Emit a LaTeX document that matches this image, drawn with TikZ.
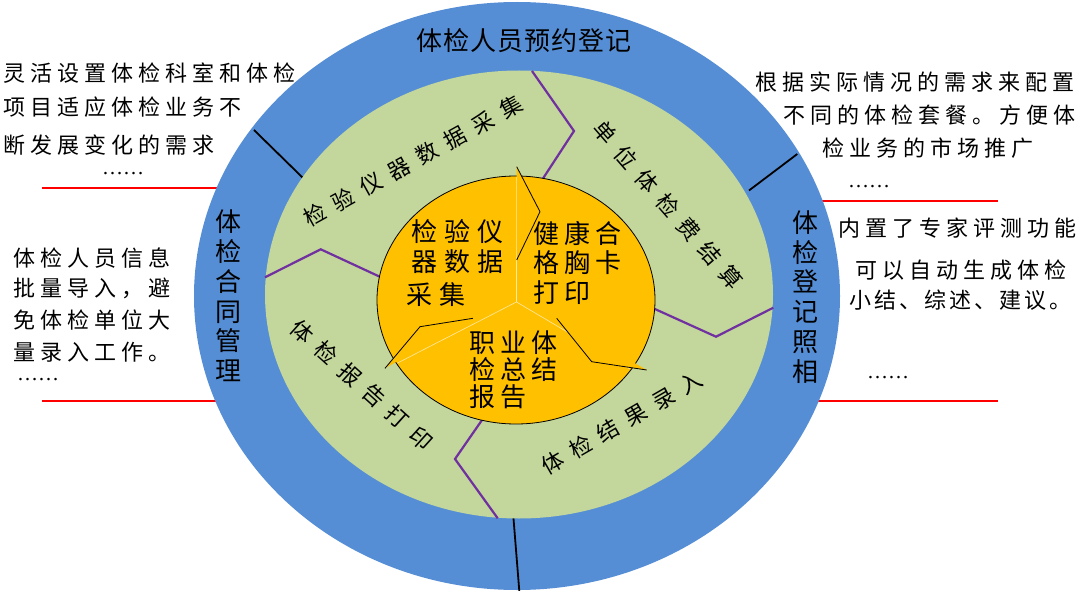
\documentclass[tikz,border=0pt]{standalone}
\usepackage{fontspec}
\newfontfamily\cjkside{Noto Sans CJK SC}[LetterSpace=23]
\newfontfamily\cjksidetight{Noto Sans CJK SC}[LetterSpace=14]
\newfontfamily\cjkring{Noto Sans CJK SC}[LetterSpace=4]
\newfontfamily\cjkgreen{Noto Sans CJK SC}[LetterSpace=45]
\newfontfamily\cjkinA{Noto Sans CJK SC}[LetterSpace=28]
\newfontfamily\cjkinB{Noto Sans CJK SC}[LetterSpace=20]
\newfontfamily\cjkplain{Noto Sans CJK SC}
\newfontfamily\dotsfont{Liberation Serif}
\definecolor{ringblue}{HTML}{558ED5}
\definecolor{ringgreen}{HTML}{C3D69B}
\definecolor{coreorange}{HTML}{FFC000}
\definecolor{zigpurple}{HTML}{7030A0}
\definecolor{sectorline}{HTML}{FFE9A8}
\tikzset{
  sidetxt/.style={anchor=west, inner sep=0pt, font=\cjkside\fontsize{22}{26}\selectfont},
  sidetight/.style={anchor=west, inner sep=0pt, font=\cjksidetight\fontsize{22}{26}\selectfont},
  dotstxt/.style={anchor=base west, inner sep=0pt, font=\dotsfont\fontsize{21}{24}\selectfont},
  ringtxt/.style={inner sep=0pt, font=\cjkring\fontsize{26}{30}\selectfont},
  vringtxt/.style={inner sep=0pt, align=center, font=\cjkplain\fontsize{26}{29.8}\selectfont},
  greentxt/.style={inner sep=0pt, font=\cjkgreen\fontsize{22}{26}\selectfont},
  coretxtA/.style={anchor=west, inner sep=0pt, font=\cjkinA\fontsize{26}{30}\selectfont},
  coretxtB/.style={anchor=west, inner sep=0pt, font=\cjkinB\fontsize{26}{30}\selectfont},
  zigzag/.style={draw=zigpurple, line width=2.2pt, line join=miter},
  tickline/.style={draw=black, line width=1.8pt},
  redrule/.style={draw=red, line width=1.8pt},
  chevfill/.style={fill=coreorange},
  chevedge/.style={draw=black, line width=0.8pt, line join=miter},
  sectorrule/.style={draw=sectorline, line width=0.6pt}
}
\begin{document}
\begin{tikzpicture}[x=1pt,y=-1pt]
\useasboundingbox (0,0) rectangle (1080,591);
\fill[white] (0,0) rectangle (1080,591);

% red rules (partly under the rings)
\coordinate (rA1) at (41.7,188.3); \coordinate (rA2) at (300,188.3);
\coordinate (rB1) at (41.7,400.7); \coordinate (rB2) at (300,400.7);
\coordinate (rC1) at (760,200.7);  \coordinate (rC2) at (998.3,200.7);
\coordinate (rD1) at (760,400.7);  \coordinate (rD2) at (998.3,400.7);
\draw[redrule] (rA1) -- (rA2);
\draw[redrule] (rB1) -- (rB2);
\draw[redrule] (rC1) -- (rC2);
\draw[redrule] (rD1) -- (rD2);

% rings
\fill[ringblue] (517,296) ellipse [x radius=323, y radius=294];
% black ticks in blue ring
\coordinate (tA1) at (254,130);   \coordinate (tA2) at (303,178);
\coordinate (tB1) at (797.3,154); \coordinate (tB2) at (749,190.5);
\coordinate (tC1) at (513.3,516); \coordinate (tC2) at (519.3,591);
\draw[tickline] (tA1) -- (tA2);
\draw[tickline] (tB1) -- (tB2);
\draw[tickline] (tC1) -- (tC2);
\fill[ringgreen] (519,294.5) ellipse [x radius=254, y radius=224];

% purple zigzags
\coordinate (zT1) at (532,71);    \coordinate (zT2) at (574,131);   \coordinate (zT3) at (542,180);
\coordinate (zR1) at (652,307.7); \coordinate (zR2) at (716,336.7); \coordinate (zR3) at (773.3,307.7);
\coordinate (zB1) at (482.7,419); \coordinate (zB2) at (455,459);   \coordinate (zB3) at (497.7,518.3);
\coordinate (zL1) at (265,277.3); \coordinate (zL2) at (320.7,249.3); \coordinate (zL3) at (381,277.3);
\draw[zigzag] (zT1) -- (zT2) -- (zT3);
\draw[zigzag] (zR1) -- (zR2) -- (zR3);
\draw[zigzag] (zB1) -- (zB2) -- (zB3);
\draw[zigzag] (zL1) -- (zL2) -- (zL3);

% orange core
\filldraw[fill=coreorange, draw=black, line width=0.8pt] (516,300) ellipse [x radius=139, y radius=124];
\coordinate (ctr) at (516.5,302);
\begin{scope}
  \clip (516,300) ellipse [x radius=138, y radius=123];
  \coordinate (sU) at (516.5,170);
  \coordinate (sL) at (380,372);
  \coordinate (sR) at (652,382);
  \draw[sectorrule] (ctr) -- (sU);
  \draw[sectorrule] (ctr) -- (sL);
  \draw[sectorrule] (ctr) -- (sR);
\end{scope}
% chevrons of the cycle arrows
\coordinate (cT1) at (516.7,166.7); \coordinate (cT2) at (540,211.7); \coordinate (cT3) at (516.7,260);
\coordinate (cL1) at (473,318.3);   \coordinate (cL2) at (420,326.7); \coordinate (cL3) at (385,368.3);
\coordinate (cR1) at (556.7,318.3); \coordinate (cR2) at (591.7,361.7); \coordinate (cR3) at (646.7,370);
\fill[chevfill] (cT1) -- (cT2) -- (cT3) -- cycle;
\fill[chevfill] (cL1) -- (cL2) -- (cL3) -- cycle;
\fill[chevfill] (cR1) -- (cR2) -- (cR3) -- cycle;
\draw[chevedge] (cT1) -- (cT2) -- (cT3);
\draw[chevedge] (cL1) -- (cL2) -- (cL3);
\draw[chevedge] (cR1) -- (cR2) -- (cR3);

% ring labels
\node[ringtxt] (title) at (524,41) {体检人员预约登记};
\node[vringtxt] (leftring) at (228,296) {体\\检\\合\\同\\管\\理};
\node[vringtxt] (rightring) at (805,297) {体\\检\\登\\记\\照\\相};

% green ring labels
\node[greentxt, rotate=29] (g1) at (413,161) {检验仪器数据采集};
\node[greentxt, rotate=-49] (g2) at (668,205) {单位体检费结算};
\node[greentxt, rotate=30] (g3) at (622,423) {体检结果录入};
\node[greentxt, rotate=-42] (g4) at (362,385) {体检报告打印};

% core labels
\node[coretxtA] (a1) at (411,232) {检验仪};
\node[coretxtA] (a2) at (411,262) {器数据};
\node[coretxtA] (a3) at (406,295) {采集};
\node[coretxtB] (b1) at (533,233) {健康合};
\node[coretxtB] (b2) at (533,263) {格胸卡};
\node[coretxtB] (b3) at (533,293) {打印};
\node[coretxtB] (c1) at (469,343) {职业体};
\node[coretxtB] (c2) at (469,370) {检总结};
\node[coretxtB] (c3) at (469,397) {报告};

% side notes, left
\node[sidetxt] (l1) at (3,73) {灵活设置体检科室和体检};
\node[sidetxt] (l2) at (3,107) {项目适应体检业务不};
\node[sidetxt] (l3) at (3,145) {断发展变化的需求};
\node[dotstxt] (l4) at (102,175) {……};
\node[sidetxt] (l5) at (13,258) {体检人员信息};
\node[sidetxt] (l6) at (13,288) {批量导入，避};
\node[sidetxt] (l7) at (13,320) {免体检单位大};
\node[sidetxt] (l8) at (13,352) {量录入工作。};
\node[dotstxt] (l9) at (17,380) {……};

% side notes, right
\node[sidetxt] (r1) at (755,82) {根据实际情况的需求来配置};
\node[sidetxt] (r2) at (783,115) {不同的体检套餐。方便体};
\node[sidetxt] (r3) at (822,148) {检业务的市场推广};
\node[dotstxt] (r4) at (848,188) {……};
\node[sidetxt] (r5) at (838,228) {内置了专家评测功能};
\node[sidetxt] (r6) at (855,270) {可以自动生成体检};
\node[sidetight] (r7) at (849,300) {小结、综述、建议。};
\node[dotstxt] (r8) at (867,378) {……};
\end{tikzpicture}
\end{document}
